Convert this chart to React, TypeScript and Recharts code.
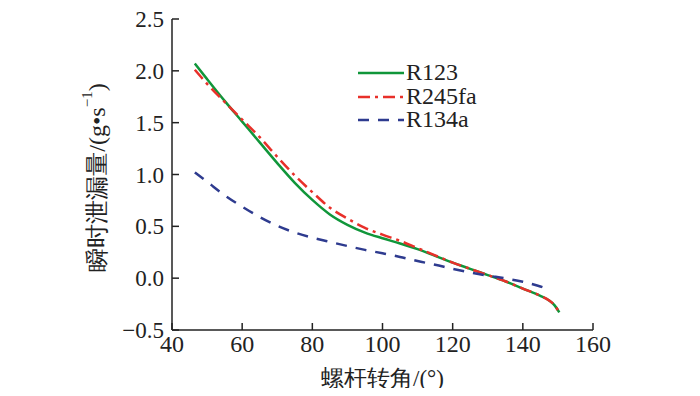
import { LineChart, Line, XAxis, YAxis, Legend } from 'recharts';

// 螺杆转角 (°)
const angles = [46.5, 50, 55, 60, 65, 70, 75, 80, 85, 90, 95, 100, 105, 110, 115, 120, 125, 130, 135, 140, 145, 147.5, 149, 150.4];
// 瞬时泄漏量 (g/s)
const r123 = [2.07, 1.92, 1.71, 1.51, 1.31, 1.11, 0.92, 0.755, 0.615, 0.515, 0.44, 0.385, 0.335, 0.28, 0.215, 0.15, 0.09, 0.03, -0.03, -0.1, -0.17, -0.215, -0.26, -0.33];
const r245fa = [2.01, 1.875, 1.7, 1.53, 1.36, 1.17, 0.99, 0.83, 0.68, 0.575, 0.485, 0.42, 0.36, 0.29, 0.22, 0.15, 0.09, 0.03, -0.03, -0.1, -0.17, -0.215, -0.26, -0.33];
const r134a = [1.02, 0.93, 0.8, 0.69, 0.59, 0.505, 0.44, 0.39, 0.35, 0.31, 0.273, 0.24, 0.205, 0.165, 0.13, 0.09, 0.055, 0.025, -0.002, -0.035, -0.08, -0.11, null, null];

const xTicks = [40, 60, 80, 100, 120, 140, 160];
const yTicks = [-0.5, 0, 0.5, 1.0, 1.5, 2.0, 2.5];

const seriesList = [
  { name: 'R123', values: r123, color: '#10963a', dash: undefined as string | undefined },
  { name: 'R245fa', values: r245fa, color: '#e8302a', dash: '12 5 3 5' },
  { name: 'R134a', values: r134a, color: '#2e3b8f', dash: '11 9' },
];

const SERIF = 'Liberation Serif';

const rows = (vals: (number | null)[]) =>
  angles.map((x, i) => ({ x, y: vals[i] })).filter((p) => p.y !== null);

const fmtY = (v: number) => (v < 0 ? '\u2212' + Math.abs(v).toFixed(1) : v.toFixed(1));

function YTick({ x, y, payload }: any) {
  return (
    <g>
      <line x1={x + 8} x2={x + 15} y1={y} y2={y} stroke="#222" strokeWidth={1.5} />
      <text x={x} y={y} dy={8} textAnchor="end" fontSize={23} fontFamily={SERIF} fill="#222">
        {fmtY(payload.value)}
      </text>
    </g>
  );
}

function XTick({ x, y, payload }: any) {
  return (
    <g>
      <line x1={x} x2={x} y1={y - 6} y2={y - 13} stroke="#222" strokeWidth={1.5} />
      <text x={x} y={y + 16} textAnchor="middle" fontSize={24} fontFamily={SERIF} fill="#222">
        {payload.value}
      </text>
    </g>
  );
}

function YTitle({ viewBox }: any) {
  const cx = viewBox.x - 15;
  const cy = viewBox.y + viewBox.height / 2 + 3;
  return (
    <text x={cx} y={cy} transform={`rotate(-90 ${cx} ${cy})`} textAnchor="middle" dominantBaseline="central"
      fontSize={24} fontFamily={SERIF} fill="#222">
      瞬时泄漏量/(g•s
      <tspan fontSize={15} dy={-10}>−1</tspan>
      <tspan dy={10}>)</tspan>
    </text>
  );
}

function XTitle({ viewBox }: any) {
  const cx = viewBox.x + viewBox.width / 2;
  return (
    <text x={cx} y={378} textAnchor="middle" dominantBaseline="central" fontSize={23} fontFamily={SERIF} fill="#222">
      螺杆转角/(°)
    </text>
  );
}

function LegendBox() {
  return (
    <div style={{ fontFamily: SERIF, fontSize: 24, color: '#222' }}>
      {seriesList.map((s) => (
        <div key={s.name} style={{ display: 'flex', alignItems: 'center', height: 23.5 }}>
          <svg width={50} height={23.5}>
            <line x1={2} x2={48} y1={12} y2={12} stroke={s.color} strokeWidth={2.5} strokeDasharray={s.dash} />
          </svg>
          <span style={{ lineHeight: '23.5px' }}>{s.name}</span>
        </div>
      ))}
    </div>
  );
}

export default function App() {
  return (
    <div style={{ margin: -8 }}>
      <LineChart width={700} height={396} margin={{ top: 19, right: 107, left: 112, bottom: 36 }}>
        <XAxis type="number" dataKey="x" domain={[40, 160]} ticks={xTicks} allowDataOverflow
          tickSize={0} tickMargin={6} tickLine={false} tick={<XTick />} height={30}
          axisLine={{ stroke: '#222', strokeWidth: 1.5 }} label={<XTitle />} />
        <YAxis type="number" domain={[-0.5, 2.5]} ticks={yTicks} width={60}
          tickSize={0} tickMargin={8} tickLine={false} tick={<YTick />}
          axisLine={{ stroke: '#222', strokeWidth: 1.5 }} label={<YTitle />} />
        <Legend layout="vertical" align="center" verticalAlign="middle" content={<LegendBox />}
          wrapperStyle={{ position: 'absolute', left: 356, top: 61, width: 140, height: 75 }} />
        {seriesList.map((s) => (
          <Line key={s.name} data={rows(s.values)} dataKey="y" name={s.name} type="monotone"
            stroke={s.color} strokeWidth={2.5} strokeDasharray={s.dash} dot={false}
            activeDot={false} isAnimationActive={false} />
        ))}
      </LineChart>
    </div>
  );
}
